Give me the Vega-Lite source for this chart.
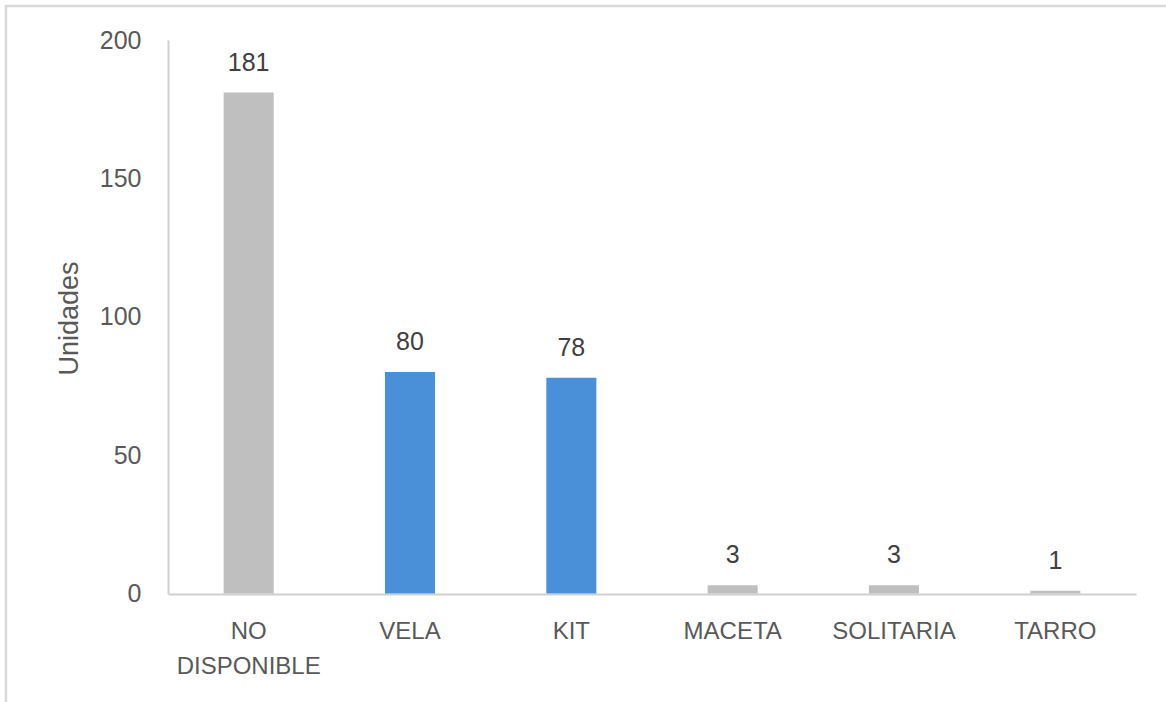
{
  "$schema": "https://vega.github.io/schema/vega-lite/v6.json",
  "width": 1170,
  "height": 710,
  "autosize": {"type": "none"},
  "padding": {"left": 6, "top": 6, "right": 0, "bottom": 0},
  "background": "#ffffff",
  "config": {
    "view": {"stroke": "#d9d9d9", "strokeWidth": 2.5},
    "font": "Liberation Sans",
    "axis": {"labelFont": "Liberation Sans", "titleFont": "Liberation Sans"}
  },
  "data": {
    "values": [
      {"categoria": "NO DISPONIBLE", "unidades": 181},
      {"categoria": "VELA", "unidades": 80},
      {"categoria": "KIT", "unidades": 78},
      {"categoria": "MACETA", "unidades": 3},
      {"categoria": "SOLITARIA", "unidades": 3},
      {"categoria": "TARRO", "unidades": 1}
    ]
  },
  "encoding": {
    "x": {
      "field": "categoria",
      "type": "nominal",
      "sort": null,
      "scale": {"range": [162, 1130], "paddingInner": 0.69, "paddingOuter": 0.345},
      "axis": {
        "title": null,
        "offset": -122,
        "ticks": false,
        "labelAngle": 0,
        "labelPadding": 25,
        "labelFontSize": 24,
        "labelColor": "#595959",
        "labelLineHeight": 35,
        "labelExpr": "datum.value == 'NO DISPONIBLE' ? ['NO', 'DISPONIBLE'] : datum.value",
        "domainColor": "#d0d0d0",
        "domainWidth": 2
      }
    },
    "y": {
      "field": "unidades",
      "type": "quantitative",
      "scale": {"domain": [0, 200], "range": [587.5, 34], "nice": false},
      "axis": {
        "title": "Unidades",
        "offset": -162,
        "grid": false,
        "ticks": false,
        "values": [0, 50, 100, 150, 200],
        "labelPadding": 27,
        "labelFontSize": 25,
        "labelColor": "#595959",
        "titleFontSize": 27,
        "titleFontWeight": "normal",
        "titleColor": "#595959",
        "titleX": -99,
        "titleY": 312,
        "titleAngle": -90,
        "titleAlign": "center",
        "titleBaseline": "middle",
        "domainColor": "#d0d0d0",
        "domainWidth": 2
      }
    }
  },
  "layer": [
    {
      "mark": {"type": "bar"},
      "encoding": {
        "color": {
          "condition": {"test": "datum.categoria == 'VELA' || datum.categoria == 'KIT'", "value": "#4a90d9"},
          "value": "#bfbfbf"
        }
      }
    },
    {
      "mark": {"type": "text", "baseline": "alphabetic", "dy": -22, "fontSize": 25, "color": "#404040"},
      "encoding": {"text": {"field": "unidades", "type": "quantitative"}}
    }
  ]
}
